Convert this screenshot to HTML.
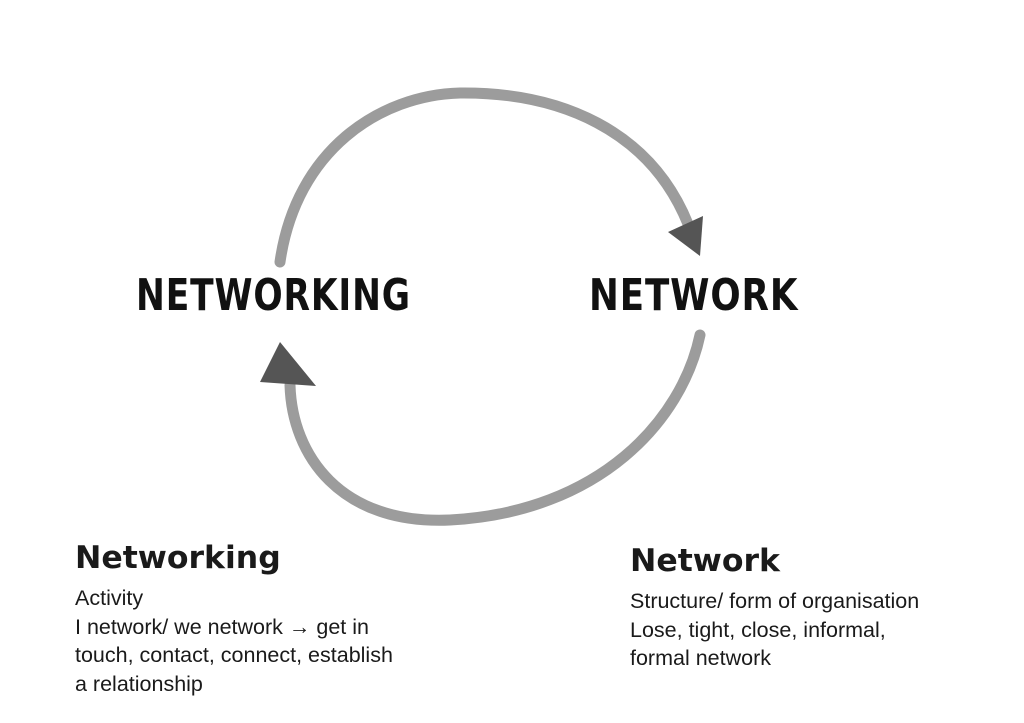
<!DOCTYPE html>
<html><head><meta charset="utf-8"><style>
body{margin:0;width:1024px;height:723px;background:#fff;overflow:hidden;position:relative;font-family:"Liberation Sans",sans-serif;color:#1a1a1a}
.t{position:absolute;white-space:nowrap}
.h{font-family:"DejaVu Sans","Liberation Sans",sans-serif;font-weight:bold;font-size:31.5px;line-height:36px}
.b{font-size:21.5px;line-height:28.5px}
.big{font-family:"DejaVu Sans Condensed","Liberation Sans Narrow",sans-serif;font-weight:bold;font-size:44px;letter-spacing:1px;color:#111}
</style></head><body>
<svg width="1024" height="723" style="position:absolute;left:0;top:0">
<path d="M280,262 C296,150 380,95 460,93 C560,92 650,130 688,224" fill="none" stroke="#9c9c9c" stroke-width="11" stroke-linecap="round"/>
<polygon points="668,232 703,216 700,256" fill="#555"/>
<path d="M700,335 C682,420 600,512 450,520 C340,525 292,455 290,385" fill="none" stroke="#9c9c9c" stroke-width="11" stroke-linecap="round"/>
<polygon points="260,382 280,342 316,386" fill="#555"/>
</svg>
<div class="t big" style="left:136px;top:270px;transform:scaleX(0.87);transform-origin:left">NETWORKING</div>
<div class="t big" style="left:589px;top:270px;transform:scaleX(0.9);transform-origin:left">NETWORK</div>
<div class="t h" style="left:75px;top:540px">Networking</div>
<div class="t b" style="left:75px;top:584px">Activity<br>I network/ we network → get in<br>touch, contact, connect, establish<br>a relationship</div>
<div class="t h" style="left:630px;top:543px">Network</div>
<div class="t b" style="left:630px;top:587px">Structure/ form of organisation<br>Lose, tight, close, informal,<br>formal network</div>
</body></html>
